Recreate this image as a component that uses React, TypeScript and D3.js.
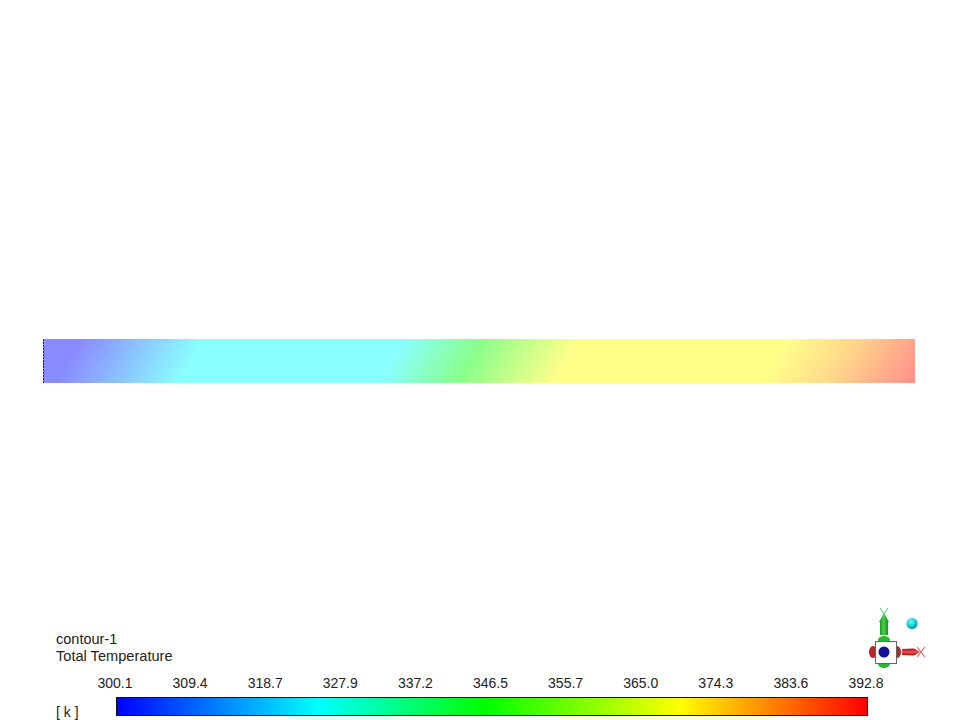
import React from "react";
import * as d3 from "d3";

const legendTicks = ["300.1", "309.4", "318.7", "327.9", "337.2", "346.5", "355.7", "365.0", "374.3", "383.6", "392.8"];
const legendMin = 300.1;
const legendMax = 392.8;
const rainbowFractions = [0, 0.27, 0.49, 0.75, 1];
const rainbowColors = ["#0000ff", "#00ffff", "#00ff00", "#ffff00", "#ff0000"];

// axial station (fraction of pipe length along the centreline) and total temperature
const stationFraction = [0, 0.03, 0.17, 0.4, 0.49, 0.6, 0.84, 0.92, 1.02];
const stationTemperature = [300.1, 300.1, 325, 325, 345.5, 369.6, 369.6, 378, 392.8];

const contourTitle = "contour-1";
const fieldName = "Total Temperature";
const unitLabel = "[ k ]";

const W = 960, H = 720;
const pipe = { x0: 43, x1: 915, y0: 339, y1: 383 };
const bar = { x0: 116, x1: 868, y0: 697, y1: 716 };
const SLANT = 25 / 44; // isotherm lean: horizontal shift per unit of height

const frac = d3.scaleLinear().domain([legendMin, legendMax]).range([0, 1]);
const rainbow = d3.scaleLinear<string>().domain(rainbowFractions).range(rainbowColors).interpolate(d3.interpolateRgb);
const fieldColor = (t: number) => d3.interpolateRgb("#ffffff", rainbow(frac(t)))(0.46);
const tickX = d3.scalePoint<string>().domain(legendTicks).range([115, 866]);
const pipeX = d3.scaleLinear().domain([0, 1]).range([pipe.x0, pipe.x1]);

export default function App() {
  const yc = (pipe.y0 + pipe.y1) / 2;
  const len = pipe.x1 - pipe.x0;
  const c2 = 1 / (1 + SLANT * SLANT);
  const xEnd = pipeX(stationFraction[stationFraction.length - 1]);
  const gradLen = xEnd - pipe.x0;
  const dashes = d3.range(pipe.y0, pipe.y1, 3);
  return (
    <svg width={W} height={H} viewBox={`0 0 ${W} ${H}`}
      style={{ position: "absolute", left: 0, top: 0, background: "#ffffff", fontFamily: "'Liberation Sans', Arial, sans-serif" }}>
      <defs>
        <linearGradient id="field" gradientUnits="userSpaceOnUse"
          x1={pipe.x0} y1={yc} x2={pipe.x0 + gradLen * c2} y2={yc + gradLen * c2 * SLANT}>
          {stationFraction.map((f, i) => (
            <stop key={i} offset={(pipeX(f) - pipe.x0) / gradLen} stopColor={fieldColor(stationTemperature[i])} />
          ))}
        </linearGradient>
        <linearGradient id="legend" x1="0" x2="1" y1="0" y2="0">
          {rainbowFractions.map((f, i) => <stop key={i} offset={f} stopColor={rainbowColors[i]} />)}
        </linearGradient>
        <radialGradient id="ball" cx="0.4" cy="0.35" r="0.7">
          <stop offset="0" stopColor="#6ff" /><stop offset="0.6" stopColor="#1cc" /><stop offset="1" stopColor="#088" />
        </radialGradient>
        <linearGradient id="yArrow" x1="0" x2="1" y1="0" y2="0">
          <stop offset="0" stopColor="#0a8a14" /><stop offset="0.45" stopColor="#45d045" /><stop offset="1" stopColor="#0a8a14" />
        </linearGradient>
        <linearGradient id="xArrow" x1="0" x2="0" y1="0" y2="1">
          <stop offset="0" stopColor="#a01010" /><stop offset="0.5" stopColor="#f05050" /><stop offset="1" stopColor="#a01010" />
        </linearGradient>
      </defs>

      <rect x={pipe.x0} y={pipe.y0} width={len} height={pipe.y1 - pipe.y0} fill="url(#field)" />
      {dashes.map(y => <line key={y} x1={pipe.x0 + 0.5} x2={pipe.x0 + 0.5} y1={y} y2={y + 2} stroke="#223" strokeWidth={1} />)}

      <text x={56} y={644} fontSize={14.5} fill="#222">{contourTitle}</text>
      <text x={56} y={661} fontSize={14.6} fill="#222">{fieldName}</text>
      <text x={56} y={717} fontSize={14} fill="#222">{unitLabel}</text>

      {legendTicks.map(t => (
        <text key={t} x={(tickX(t) as number)} y={688} fontSize={14} fill="#222" textAnchor="middle">{t}</text>
      ))}
      <rect x={bar.x0 + 0.5} y={bar.y0 + 0.5} width={bar.x1 - bar.x0 - 1} height={bar.y1 - bar.y0 - 1} fill="url(#legend)" stroke="#111" strokeWidth={1} />

      {/* orientation triad */}
      <g>
        <circle cx={912} cy={623.5} r={5.5} fill="url(#ball)" />
        <ellipse cx={873} cy={652} rx={4} ry={6} fill="#b82424" />
        <ellipse cx={897} cy={652} rx={4} ry={6} fill="#b82424" />
        <ellipse cx={884} cy={640} rx={6} ry={4} fill="#2db52d" />
        <ellipse cx={884} cy={664} rx={6} ry={4} fill="#2db52d" />
        <rect x={875.5} y={641.5} width={21} height={22} fill="#fbfbfb" stroke="#666" strokeWidth={1} />
        <circle cx={884} cy={652} r={5.5} fill="#12129a" />
        <path d="M884 613 L889 622 L888 622 L888 635 L880 635 L880 622 L879 622 Z" fill="url(#yArrow)" />
        <path d="M880 608 L884 614 L888 608" fill="none" stroke="#60d080" strokeWidth={1.2} />
        <path d="M902 649 L914 648.5 L920 652 L914 655.5 L902 655 Z" fill="url(#xArrow)" />
        <path d="M917 647 L925 657 M925 647 L917 657" fill="none" stroke="#e85858" strokeWidth={1.1} />
      </g>
    </svg>
  );
}
